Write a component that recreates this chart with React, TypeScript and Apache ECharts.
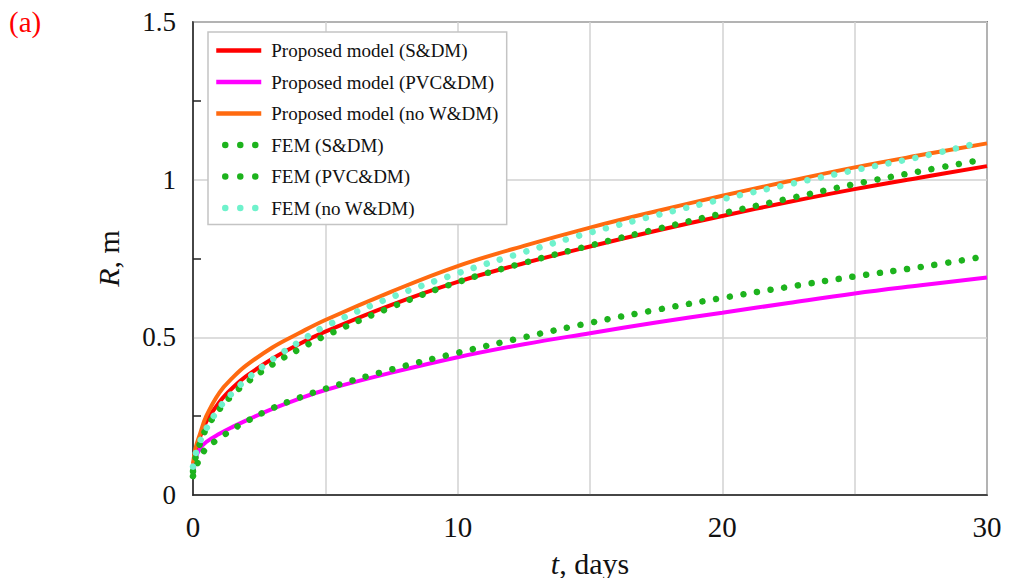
import React, { useEffect, useRef } from "react";
import * as echarts from "echarts";

// Time (days) at which each curve is sampled
const tDays = [0, 0.1, 0.25, 0.5, 1, 1.5, 2, 3, 4, 5, 7.5, 10, 12.5, 15, 17.5, 20, 22.5, 25, 27.5, 30];

// Proposed model results, R in metres
const modelSDM = [0.09, 0.135, 0.18, 0.232, 0.295, 0.34, 0.376, 0.432, 0.478, 0.518, 0.603, 0.676, 0.735, 0.788, 0.838, 0.885, 0.929, 0.97, 1.007, 1.043];
const modelPVC = [0.055, 0.115, 0.145, 0.168, 0.194, 0.216, 0.236, 0.273, 0.305, 0.333, 0.388, 0.437, 0.478, 0.513, 0.547, 0.578, 0.609, 0.639, 0.665, 0.69];
const modelNoW = [0.1, 0.15, 0.19, 0.25, 0.325, 0.372, 0.41, 0.468, 0.513, 0.555, 0.645, 0.726, 0.79, 0.848, 0.9, 0.949, 0.995, 1.039, 1.078, 1.115];

// FEM results (last sample slightly before 30 days)
const femT = [0, 0.1, 0.25, 0.5, 1, 1.5, 2, 3, 4, 5, 7.5, 10, 12.5, 15, 17.5, 20, 22.5, 25, 27.5, 29.6];
const femSDM = [0.075, 0.12, 0.16, 0.21, 0.272, 0.318, 0.355, 0.414, 0.462, 0.505, 0.596, 0.675, 0.736, 0.791, 0.843, 0.893, 0.94, 0.986, 1.027, 1.06];
const femPVC = [0.06, 0.085, 0.115, 0.148, 0.18, 0.208, 0.233, 0.275, 0.308, 0.337, 0.398, 0.451, 0.5, 0.546, 0.587, 0.625, 0.66, 0.693, 0.723, 0.752];
const femNoW = [0.09, 0.13, 0.167, 0.21, 0.277, 0.325, 0.365, 0.43, 0.485, 0.535, 0.627, 0.703, 0.77, 0.832, 0.887, 0.938, 0.985, 1.03, 1.073, 1.115];

const seriesNames = [
  "Proposed model (S&DM)",
  "Proposed model (PVC&DM)",
  "Proposed model (no W&DM)",
  "FEM (S&DM)",
  "FEM (PVC&DM)",
  "FEM (no W&DM)",
];

const FONT = "Liberation Serif";

const zip = (xs: number[], ys: number[]) => xs.map((x, i) => [x, ys[i]]);

export default function App() {
  const ref = useRef<HTMLDivElement>(null);

  useEffect(() => {
    if (!ref.current) return;
    const chart = echarts.init(ref.current, undefined, { renderer: "svg" });

    const solid = (name: string, color: string, ys: number[]) => ({
      name,
      type: "line",
      data: zip(tDays, ys),
      smooth: 0.4,
      symbol: "none",
      lineStyle: { color, width: 4 },
      itemStyle: { color },
    });
    const dotted = (name: string, color: string, ys: number[]) => ({
      name,
      type: "line",
      data: zip(femT, ys),
      smooth: 0.4,
      symbol: "none",
      lineStyle: { color, width: 6.5, type: [0.01, 13.8], cap: "round" },
      itemStyle: { color },
    });

    const solidLegend = { width: 4.5 };
    const dotLegend = { type: [0.01, 15], dashOffset: 6, cap: "round", width: 6.5 };

    chart.setOption({
      animation: false,
      backgroundColor: "#fff",
      textStyle: { fontFamily: FONT },
      grid: {
        left: 193,
        right: 22,
        top: 22,
        bottom: 91,
        show: true,
        borderColor: "#222",
        borderWidth: 1.5,
        backgroundColor: "transparent",
      },
      legend: {
        orient: "vertical",
        left: 208,
        top: 32,
        padding: [9, 8, 7, 5],
        itemWidth: 45,
        itemHeight: 14,
        itemGap: 12.5,
        backgroundColor: "#fff",
        borderColor: "#c4c4c4",
        borderWidth: 1.5,
        borderRadius: 0,
        itemStyle: { opacity: 0 },
        textStyle: { fontFamily: FONT, fontSize: 19, color: "#111", padding: [0, 0, 0, 5] },
        data: [
          { name: seriesNames[0], lineStyle: solidLegend },
          { name: seriesNames[1], lineStyle: solidLegend },
          { name: seriesNames[2], lineStyle: solidLegend },
          { name: seriesNames[3], lineStyle: dotLegend },
          { name: seriesNames[4], lineStyle: dotLegend },
          { name: seriesNames[5], lineStyle: dotLegend },
        ],
      },
      xAxis: {
        type: "value",
        min: 0,
        max: 30,
        interval: 5,
        name: "{i|t}, days",
        nameLocation: "middle",
        nameGap: 53,
        nameTextStyle: {
          fontFamily: FONT,
          fontSize: 30,
          color: "#111",
          rich: { i: { fontStyle: "italic", fontFamily: FONT, fontSize: 30, color: "#111" } },
        },
        axisLine: { lineStyle: { color: "#222", width: 1.5 } },
        axisTick: { show: false },
        axisLabel: {
          formatter: (v: number) => (v % 10 === 0 ? String(v) : ""),
          fontFamily: FONT,
          fontSize: 29,
          color: "#111",
          margin: 17,
        },
        splitLine: { show: true, lineStyle: { color: "#d2d2d2", width: 1.5 } },
      },
      yAxis: {
        type: "value",
        min: 0,
        max: 1.5,
        interval: 0.5,
        name: "{i|R}, m",
        nameLocation: "middle",
        nameRotate: 90,
        nameGap: 70,
        nameTextStyle: {
          fontFamily: FONT,
          fontSize: 30,
          color: "#111",
          rich: { i: { fontStyle: "italic", fontFamily: FONT, fontSize: 30, color: "#111" } },
        },
        axisLine: { show: true, lineStyle: { color: "#222", width: 1.5 } },
        axisTick: { show: false, inside: true },
        minorTick: { show: true, splitNumber: 2, length: 8, lineStyle: { color: "#222", width: 1.5 } },
        axisLabel: { fontFamily: FONT, fontSize: 27, color: "#111", margin: 17 },
        splitLine: { show: true, lineStyle: { color: "#d2d2d2", width: 1.5 } },
      },
      graphic: [
        {
          type: "text",
          left: 9,
          top: 7,
          style: { text: "(a)", fill: "#ff0000", font: `29px ${FONT}` },
        },
      ],
      series: [
        solid(seriesNames[0], "#ff0000", modelSDM),
        solid(seriesNames[1], "#ff00ff", modelPVC),
        solid(seriesNames[2], "#ff6a10", modelNoW),
        dotted(seriesNames[3], "#1db31d", femSDM),
        dotted(seriesNames[4], "#1db31d", femPVC),
        dotted(seriesNames[5], "#6ff2cc", femNoW),
      ],
    });

    return () => chart.dispose();
  }, []);

  return <div ref={ref} style={{ width: 1009, height: 586, margin: -8 }} />;
}
